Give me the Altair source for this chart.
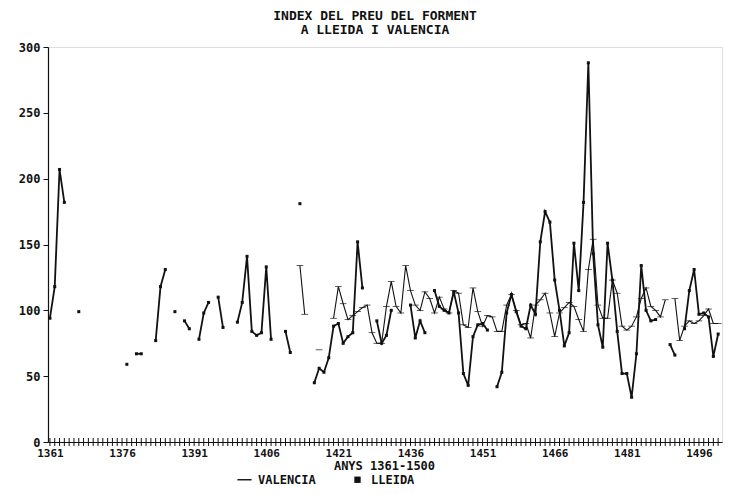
import altair as alt
import pandas as pd

years = list(range(1361, 1501))

# LLEIDA index (one value per year 1361..1500, None = no data)
lleida = [
    94, 118, 207, 182, None, None, 99, None, None, None,          # 1361-1370
    None, None, None, None, None, None, 59, None, 67, 67,         # 1371-1380
    None, None, 77, 118, 131, None, 99, None, 92, 86,             # 1381-1390
    None, 78, 98, 106, None, 110, 87, None, None, 91,             # 1391-1400
    106, 141, 84, 81, 83, 133, 78, None, None, 84,                # 1401-1410
    68, None, 181, None, None, 45, 56, 53, 64, 88,                # 1411-1420
    90, 75, 80, 83, 152, 117, None, None, 92, 75,                 # 1421-1430
    81, 100, None, None, None, 104, 79, 92, 83, None,             # 1431-1440
    115, 103, 100, 98, 114, 98, 52, 43, 80, 89,                   # 1441-1450
    90, 85, None, 42, 53, 98, 112, 99, 88, 86,                    # 1451-1460
    104, 97, 152, 175, 167, 123, 100, 73, 83, 151,                # 1461-1470
    115, 182, 288, 143, 89, 72, 151, 123, 84, 52,                 # 1471-1480
    52, 34, 67, 134, 100, 92, 93, None, None, 74,                 # 1481-1490
    66, None, 86, 115, 131, 97, 98, 95, 65, 82,                   # 1491-1500
]

# VALENCIA index
valencia = [
    None, None, None, None, None, None, None, None, None, None,   # 1361-1370
    None, None, None, None, None, None, None, None, None, None,   # 1371-1380
    None, None, None, None, None, None, None, None, None, None,   # 1381-1390
    None, None, None, None, None, None, None, None, None, None,   # 1391-1400
    None, None, None, None, None, None, None, None, None, None,   # 1401-1410
    None, None, 134, 97, None, None, 70, None, None, 94,          # 1411-1420
    118, 105, 93, 96, 99, 102, 104, 83, 75, 75,                   # 1421-1430
    103, 122, 103, 98, 134, 115, 104, 100, 114, 109,              # 1431-1440
    98, 110, 101, 98, 115, 113, 89, 87, 117, 99,                  # 1441-1450
    88, 96, 95, 84, 84, 104, 112, 100, 89, 90,                    # 1451-1460
    79, 104, 108, 113, 98, 80, 98, 102, 106, 103,                 # 1461-1470
    93, 84, 131, 154, 104, 94, 94, 123, 113, 88,                  # 1471-1480
    85, 88, 95, 109, 117, 103, 100, 95, 108, None,                # 1481-1490
    109, 77, 88, 92, 90, 92, 96, 101, 90, 90,                     # 1491-1500
]

label_years = [1361, 1376, 1391, 1406, 1421, 1436, 1451, 1466, 1481, 1496]
y_ticks = [0, 50, 100, 150, 200, 250, 300]
series_names = ["VALENCIA", "LLEIDA"]

rows = []
for name, vals in (("VALENCIA", valencia), ("LLEIDA", lleida)):
    seg = 0
    prev_none = True
    for yr, v in zip(years, vals):
        if v is None:
            prev_none = True
            continue
        if prev_none:
            seg += 1
        prev_none = False
        rows.append({"year": yr, "value": v, "series": name, "seg": f"{name}-{seg}"})
df = pd.DataFrame(rows)
ticks_df = pd.DataFrame({"year": years})

FONT = "DejaVu Sans Mono"
INK = "#111111"
XSCALE = alt.Scale(domain=[1360.6, 1500.8], nice=False, zero=False)

x_enc = alt.X("year:Q", scale=XSCALE,
              axis=alt.Axis(values=label_years, format="d", ticks=False, grid=False,
                            labelPadding=5, labelFont=FONT, labelFontSize=11,
                            labelFontWeight="bold", labelColor=INK,
                            domainColor=INK, domainWidth=1.2,
                            title="ANYS 1361-1500", titleFont=FONT, titleFontSize=12,
                            titleFontWeight="bold", titleColor=INK, titlePadding=2,
                            titleX=336))
y_enc = alt.Y("value:Q",
              scale=alt.Scale(domain=[0, 300], nice=False),
              axis=alt.Axis(values=y_ticks, grid=False, tickSize=5, tickColor=INK,
                            labelPadding=3, labelFont=FONT, labelFontSize=12,
                            labelFontWeight="bold", labelColor=INK,
                            domainColor=INK, domainWidth=1.2, title=None))

base = alt.Chart(df)

line_v = base.transform_filter(alt.datum.series == "VALENCIA").mark_line(
    color=INK, strokeWidth=1.1).encode(x=x_enc, y=y_enc, detail="seg:N")
line_l = base.transform_filter(alt.datum.series == "LLEIDA").mark_line(
    color=INK, strokeWidth=1.8).encode(x=x_enc, y=y_enc, detail="seg:N")

legend = alt.Legend(title=None, orient="none", direction="horizontal",
                    legendX=189, legendY=425, labelFont=FONT, labelFontSize=12,
                    labelFontWeight="bold", labelColor=INK, columnPadding=34,
                    symbolSize=200, labelOffset=6, symbolStrokeWidth=0)

points = base.mark_point(filled=True, opacity=1, strokeWidth=0, size=45).encode(
    x=x_enc, y=y_enc,
    shape=alt.Shape("series:N",
                    scale=alt.Scale(domain=series_names,
                                    range=["M-1,-0.1H1V0.1H-1Z",
                                           "M-0.45,-0.45H0.45V0.45H-0.45Z"]),
                    legend=legend),
    color=alt.Color("series:N",
                    scale=alt.Scale(domain=series_names, range=[INK, INK]),
                    legend=legend),
)

year_ticks = alt.Chart(ticks_df).mark_rule(color=INK, strokeWidth=1).encode(
    x=alt.X("year:Q", scale=XSCALE),
    y=alt.value(391), y2=alt.value(399))

chart = alt.layer(year_ticks, line_v, line_l, points).properties(
    width=674, height=395,
    title=alt.TitleParams(["INDEX DEL PREU DEL FORMENT", "A LLEIDA I VALENCIA"],
                          font=FONT, fontSize=13, fontWeight="bold", color=INK,
                          anchor="middle", offset=4, lineHeight=14, dx=-10),
    autosize=alt.AutoSizeParams(type="none"),
    padding={"left": 40, "top": 39, "right": 4, "bottom": 44},
).configure_view(strokeWidth=0).configure(background="white")

chart.save("out.html", embed_options={"renderer": "svg", "actions": False})
